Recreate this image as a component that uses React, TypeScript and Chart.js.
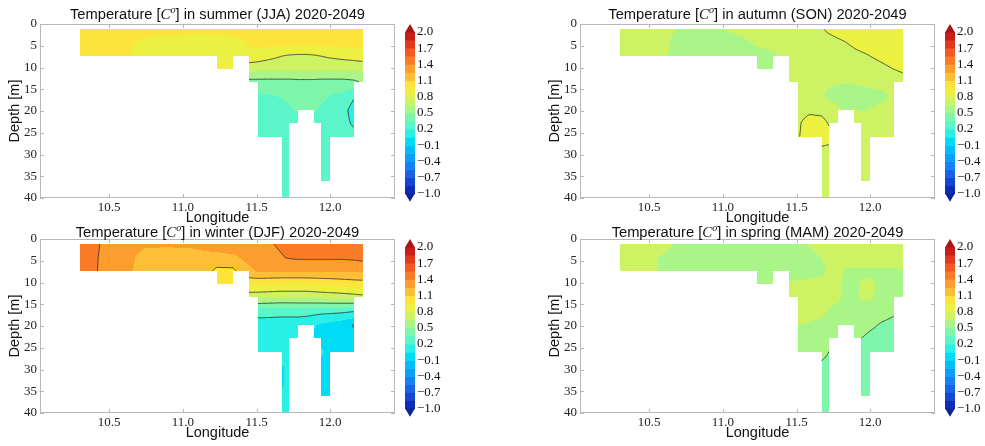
import React, { useEffect, useRef } from "react";
import { Chart, registerables } from "chart.js";

Chart.register(...registerables);

const _ = null;

// Model grid: longitude of each column, depth [m] of each row
const LONGITUDES = [10.30, 10.45, 10.60, 10.75, 10.90, 11.05, 11.15, 11.23, 11.34, 11.40, 11.45, 11.51, 11.59, 11.67, 11.72, 11.78, 11.84, 11.89, 11.94, 12.00, 12.08, 12.16, 12.22];
const DEPTHS = [1.2, 4.3, 7.4, 10.4, 13.3, 16.5, 19.8, 22.8, 25.9, 29.5, 33.0, 36.1, 39.7];

// Temperature change [C] at each grid node (null = land)
const SUMMER_JJA = [
  [1.02, 1.02, 1.02, 1.00, 0.99, 0.98, 0.98, 0.98, 0.99, 1.00, 1.00, 1.01, 1.02, 1.02, 1.02, 1.02, 1.02, 1.02, 1.02, 1.01, 1.00, 1.00, 1.00],
  [1.00, 1.00, 0.98, 0.92, 0.90, 0.90, 0.90, 0.90, 0.90, 0.93, 0.97, 1.00, 1.00, 1.00, 1.00, 1.00, 1.00, 1.00, 1.00, 1.00, 1.00, 1.00, 1.00],
  [1.00, 0.99, 0.97, 0.90, 0.88, 0.88, 0.88, 0.88, 0.88, 0.90, 0.90, 0.88, 0.84, 0.80, 0.78, 0.77, 0.77, 0.78, 0.80, 0.82, 0.84, 0.86, 0.88],
  [_, _, _, _, _, _, _, 0.86, 0.86, _, 0.70, 0.69, 0.68, 0.68, 0.68, 0.68, 0.68, 0.68, 0.68, 0.68, 0.68, 0.68, 0.68],
  [_, _, _, _, _, _, _, _, _, _, 0.45, 0.45, 0.45, 0.45, 0.45, 0.46, 0.46, 0.46, 0.45, 0.45, 0.45, 0.47, 0.52],
  [_, _, _, _, _, _, _, _, _, _, _, 0.33, 0.34, 0.36, 0.38, 0.42, 0.43, 0.42, 0.38, 0.35, 0.32, 0.22, _],
  [_, _, _, _, _, _, _, _, _, _, _, 0.28, 0.29, 0.31, 0.33, 0.36, 0.37, 0.36, 0.33, 0.30, 0.26, 0.14, _],
  [_, _, _, _, _, _, _, _, _, _, _, 0.27, 0.28, 0.29, 0.30, 0.31, _, 0.30, 0.30, 0.28, 0.25, 0.18, _],
  [_, _, _, _, _, _, _, _, _, _, _, 0.27, 0.27, 0.28, 0.28, _, _, _, 0.28, 0.28, 0.27, 0.24, _],
  [_, _, _, _, _, _, _, _, _, _, _, _, _, 0.28, 0.28, _, _, _, 0.28, 0.28, _, _, _],
  [_, _, _, _, _, _, _, _, _, _, _, _, _, 0.28, 0.28, _, _, _, 0.28, 0.28, _, _, _],
  [_, _, _, _, _, _, _, _, _, _, _, _, _, 0.28, 0.28, _, _, _, 0.28, 0.28, _, _, _],
  [_, _, _, _, _, _, _, _, _, _, _, _, _, 0.28, 0.28, _, _, _, _, _, _, _, _],
];

const AUTUMN_SON = [
  [0.72, 0.71, 0.70, 0.60, 0.60, 0.67, 0.70, 0.71, 0.72, 0.73, 0.74, 0.75, 0.77, 0.79, 0.82, 0.84, 0.85, 0.86, 0.86, 0.86, 0.86, 0.86, 0.86],
  [0.71, 0.70, 0.67, 0.58, 0.57, 0.58, 0.63, 0.67, 0.70, 0.71, 0.72, 0.73, 0.74, 0.75, 0.76, 0.78, 0.80, 0.82, 0.84, 0.85, 0.86, 0.86, 0.86],
  [0.72, 0.70, 0.67, 0.57, 0.56, 0.57, 0.58, 0.60, 0.62, 0.67, 0.70, 0.72, 0.72, 0.72, 0.73, 0.74, 0.75, 0.77, 0.78, 0.80, 0.82, 0.84, 0.85],
  [_, _, _, _, _, _, _, 0.60, 0.61, _, 0.71, 0.72, 0.72, 0.72, 0.72, 0.73, 0.73, 0.74, 0.75, 0.76, 0.78, 0.80, 0.82],
  [_, _, _, _, _, _, _, _, _, _, 0.72, 0.72, 0.71, 0.69, 0.67, 0.66, 0.66, 0.66, 0.67, 0.69, 0.71, 0.73, 0.75],
  [_, _, _, _, _, _, _, _, _, _, _, 0.72, 0.70, 0.66, 0.62, 0.60, 0.60, 0.60, 0.60, 0.60, 0.61, 0.68, _],
  [_, _, _, _, _, _, _, _, _, _, _, 0.75, 0.77, 0.76, 0.72, 0.67, 0.64, 0.66, 0.64, 0.66, 0.69, 0.72, _],
  [_, _, _, _, _, _, _, _, _, _, _, 0.78, 0.86, 0.85, 0.79, 0.74, _, 0.72, 0.72, 0.72, 0.73, 0.73, _],
  [_, _, _, _, _, _, _, _, _, _, _, 0.79, 0.86, 0.85, 0.84, _, _, _, 0.72, 0.72, 0.72, 0.72, _],
  [_, _, _, _, _, _, _, _, _, _, _, _, _, 0.77, 0.76, _, _, _, 0.72, 0.72, _, _, _],
  [_, _, _, _, _, _, _, _, _, _, _, _, _, 0.74, 0.74, _, _, _, 0.72, 0.72, _, _, _],
  [_, _, _, _, _, _, _, _, _, _, _, _, _, 0.73, 0.73, _, _, _, 0.72, 0.72, _, _, _],
  [_, _, _, _, _, _, _, _, _, _, _, _, _, 0.73, 0.73, _, _, _, _, _, _, _, _],
];

const WINTER_DJF = [
  [1.50, 1.39, 1.30, 1.27, 1.27, 1.28, 1.30, 1.32, 1.34, 1.35, 1.36, 1.37, 1.39, 1.42, 1.45, 1.48, 1.49, 1.50, 1.50, 1.50, 1.50, 1.50, 1.50],
  [1.50, 1.38, 1.30, 1.20, 1.18, 1.18, 1.20, 1.20, 1.22, 1.26, 1.30, 1.33, 1.36, 1.39, 1.41, 1.42, 1.42, 1.42, 1.42, 1.42, 1.42, 1.43, 1.45],
  [1.48, 1.38, 1.28, 1.20, 1.17, 1.17, 1.17, 1.06, 1.06, 1.17, 1.22, 1.26, 1.26, 1.26, 1.26, 1.26, 1.26, 1.26, 1.26, 1.26, 1.26, 1.26, 1.26],
  [_, _, _, _, _, _, _, 1.02, 1.02, _, 0.98, 0.97, 0.96, 0.95, 0.95, 0.95, 0.95, 0.96, 0.97, 0.98, 1.00, 1.02, 1.03],
  [_, _, _, _, _, _, _, _, _, _, 0.70, 0.70, 0.69, 0.68, 0.68, 0.68, 0.68, 0.69, 0.70, 0.71, 0.72, 0.74, 0.76],
  [_, _, _, _, _, _, _, _, _, _, _, 0.28, 0.27, 0.26, 0.26, 0.27, 0.27, 0.26, 0.25, 0.25, 0.24, 0.22, _],
  [_, _, _, _, _, _, _, _, _, _, _, 0.12, 0.12, 0.12, 0.12, 0.11, 0.09, 0.06, 0.03, 0.00, -0.04, -0.11, _],
  [_, _, _, _, _, _, _, _, _, _, _, 0.12, 0.12, 0.11, 0.10, 0.09, _, 0.04, 0.02, 0.00, -0.03, -0.06, _],
  [_, _, _, _, _, _, _, _, _, _, _, 0.12, 0.12, 0.10, 0.08, _, _, _, 0.06, 0.03, 0.01, 0.00, _],
  [_, _, _, _, _, _, _, _, _, _, _, _, _, 0.04, 0.07, _, _, _, 0.03, 0.02, _, _, _],
  [_, _, _, _, _, _, _, _, _, _, _, _, _, 0.04, 0.07, _, _, _, 0.03, 0.02, _, _, _],
  [_, _, _, _, _, _, _, _, _, _, _, _, _, 0.06, 0.07, _, _, _, 0.03, 0.03, _, _, _],
  [_, _, _, _, _, _, _, _, _, _, _, _, _, 0.07, 0.08, _, _, _, _, _, _, _, _],
];

const SPRING_MAM = [
  [0.68, 0.67, 0.67, 0.62, 0.60, 0.60, 0.60, 0.60, 0.60, 0.60, 0.60, 0.63, 0.66, 0.70, 0.70, 0.70, 0.70, 0.70, 0.70, 0.70, 0.70, 0.70, 0.70],
  [0.69, 0.68, 0.64, 0.60, 0.58, 0.58, 0.58, 0.58, 0.59, 0.60, 0.61, 0.61, 0.62, 0.65, 0.68, 0.71, 0.71, 0.71, 0.71, 0.71, 0.71, 0.71, 0.71],
  [0.68, 0.67, 0.64, 0.58, 0.58, 0.58, 0.58, 0.58, 0.58, 0.59, 0.60, 0.60, 0.61, 0.63, 0.66, 0.68, 0.63, 0.63, 0.63, 0.63, 0.63, 0.63, 0.64],
  [_, _, _, _, _, _, _, 0.60, 0.60, _, 0.66, 0.67, 0.68, 0.69, 0.70, 0.68, 0.62, 0.61, 0.665, 0.67, 0.62, 0.61, 0.61],
  [_, _, _, _, _, _, _, _, _, _, 0.66, 0.68, 0.69, 0.70, 0.69, 0.67, 0.63, 0.62, 0.665, 0.665, 0.62, 0.61, 0.60],
  [_, _, _, _, _, _, _, _, _, _, _, 0.69, 0.69, 0.68, 0.64, 0.62, 0.61, 0.61, 0.60, 0.60, 0.57, 0.53, _],
  [_, _, _, _, _, _, _, _, _, _, _, 0.65, 0.64, 0.62, 0.60, 0.59, 0.58, 0.58, 0.57, 0.53, 0.48, 0.45, _],
  [_, _, _, _, _, _, _, _, _, _, _, 0.60, 0.59, 0.58, 0.57, 0.56, _, 0.55, 0.50, 0.46, 0.44, 0.43, _],
  [_, _, _, _, _, _, _, _, _, _, _, 0.58, 0.56, 0.54, 0.50, _, _, _, 0.45, 0.43, 0.43, 0.43, _],
  [_, _, _, _, _, _, _, _, _, _, _, _, _, 0.47, 0.46, _, _, _, 0.44, 0.44, _, _, _],
  [_, _, _, _, _, _, _, _, _, _, _, _, _, 0.45, 0.45, _, _, _, 0.44, 0.44, _, _, _],
  [_, _, _, _, _, _, _, _, _, _, _, _, _, 0.45, 0.45, _, _, _, 0.44, 0.44, _, _, _],
  [_, _, _, _, _, _, _, _, _, _, _, _, _, 0.45, 0.45, _, _, _, _, _, _, _, _],
];

const SEASON_NAMES = ["summer (JJA)", "autumn (SON)", "winter (DJF)", "spring (MAM)"];
const PERIOD = "2020-2049";

// Contour levels
const FILL_LEVELS = [-1.0, -0.85, -0.7, -0.55, -0.4, -0.25, -0.1, 0.05, 0.2, 0.35, 0.5, 0.65, 0.8, 0.95, 1.1, 1.25, 1.4, 1.55, 1.7, 1.85, 2.0];
const LINE_LEVELS = [-0.7, -0.4, -0.1, 0.2, 0.5, 0.8, 1.1, 1.4, 1.7];
const COLORBAR_TICKS = [2.0, 1.7, 1.4, 1.1, 0.8, 0.5, 0.2, -0.1, -0.4, -0.7, -1.0];
const X_TICKS = [10.5, 11.0, 11.5, 12.0];
const Y_TICKS = [0, 5, 10, 15, 20, 25, 30, 35, 40];

// Styles
const BIN_COLORS = [
  [15, 45, 180], [20, 70, 210], [25, 100, 230], [20, 130, 245], [10, 160, 250],
  [0, 190, 250], [0, 220, 245], [40, 240, 230], [90, 245, 200], [125, 245, 170],
  [170, 245, 135], [205, 242, 100], [235, 240, 65], [254, 227, 58], [255, 190, 55],
  [252, 157, 45], [250, 122, 40], [245, 88, 35], [228, 55, 30], [200, 30, 25],
];
const UNDER_COLOR = [10, 35, 150];
const OVER_COLOR = [170, 20, 20];

const SERIF = "'Liberation Serif', 'DejaVu Serif', serif";
const SANS = "'Liberation Sans', Arial, sans-serif";

const PANELS = [
  { values: SUMMER_JJA, name: SEASON_NAMES[0], left: 0, top: 0, width: 540, height: 231, titleY: 15 },
  { values: AUTUMN_SON, name: SEASON_NAMES[1], left: 540, top: 0, width: 445, height: 231, titleY: 15 },
  { values: WINTER_DJF, name: SEASON_NAMES[2], left: 0, top: 215, width: 540, height: 231, titleY: 18 },
  { values: SPRING_MAM, name: SEASON_NAMES[3], left: 540, top: 215, width: 445, height: 231, titleY: 18 },
];

function colorFor(v: number): number[] {
  if (v < FILL_LEVELS[0]) return UNDER_COLOR;
  if (v >= FILL_LEVELS[FILL_LEVELS.length - 1]) return OVER_COLOR;
  for (let k = 0; k < FILL_LEVELS.length - 1; k++) {
    if (v < FILL_LEVELS[k + 1]) return BIN_COLORS[k];
  }
  return OVER_COLOR;
}

function findIndex(arr: number[], v: number): number {
  if (v < arr[0] || v > arr[arr.length - 1]) return -1;
  for (let i = 0; i < arr.length - 1; i++) if (v <= arr[i + 1]) return i;
  return -1;
}

function rgb(c: number[]) {
  return `rgb(${c[0]},${c[1]},${c[2]})`;
}

function drawTitle(ctx: CanvasRenderingContext2D, cx: number, cy: number, name: string) {
  const parts = [
    { t: "Temperature [", f: `14.7px ${SANS}`, dy: 0 },
    { t: "C", f: `italic 15px ${SERIF}`, dy: 0 },
    { t: "o", f: `italic 10px ${SERIF}`, dy: -5 },
    { t: `] in ${name} ${PERIOD}`, f: `14.7px ${SANS}`, dy: 0 },
  ];
  let total = 0;
  const widths = parts.map((p) => {
    ctx.font = p.f;
    const w = ctx.measureText(p.t).width;
    total += w;
    return w;
  });
  let x = cx - total / 2;
  ctx.fillStyle = "#111";
  ctx.textBaseline = "middle";
  ctx.textAlign = "left";
  parts.forEach((p, i) => {
    ctx.font = p.f;
    ctx.fillText(p.t, x, cy + p.dy);
    x += widths[i];
  });
}

function makeConfig(panel: any): any {
  const V: (number | null)[][] = panel.values;
  const points: { x: number; y: number }[] = [];
  V.forEach((row, j) => row.forEach((v, i) => { if (v !== null) points.push({ x: LONGITUDES[i], y: DEPTHS[j] }); }));

  const fieldPlugin = {
    id: "field",
    beforeDatasetsDraw(chart: any) {
      const { ctx, chartArea, scales } = chart;
      const xs = scales.x, ys = scales.y;
      const left = Math.round(chartArea.left), top = Math.round(chartArea.top);
      const w = Math.round(chartArea.right - chartArea.left);
      const h = Math.round(chartArea.bottom - chartArea.top);
      const off = document.createElement("canvas");
      off.width = w; off.height = h;
      const octx = off.getContext("2d")!;
      const img = octx.createImageData(w, h);
      for (let py = 0; py < h; py++) {
        const d = ys.getValueForPixel(top + py + 0.5);
        const j = findIndex(DEPTHS, d);
        if (j < 0) continue;
        const ty = (d - DEPTHS[j]) / (DEPTHS[j + 1] - DEPTHS[j]);
        for (let px = 0; px < w; px++) {
          const lon = xs.getValueForPixel(left + px + 0.5);
          const i = findIndex(LONGITUDES, lon);
          if (i < 0) continue;
          const a = V[j][i], b = V[j][i + 1], c = V[j + 1][i], e = V[j + 1][i + 1];
          if (a === null || b === null || c === null || e === null) continue;
          const tx = (lon - LONGITUDES[i]) / (LONGITUDES[i + 1] - LONGITUDES[i]);
          const v = a * (1 - tx) * (1 - ty) + b * tx * (1 - ty) + c * (1 - tx) * ty + e * tx * ty;
          const col = colorFor(v);
          const o = (py * w + px) * 4;
          img.data[o] = col[0]; img.data[o + 1] = col[1]; img.data[o + 2] = col[2]; img.data[o + 3] = 255;
        }
      }
      octx.putImageData(img, 0, 0);
      ctx.drawImage(off, left, top);

      // contour lines (marching squares on a refined bilinear grid)
      const N = 10;
      ctx.save();
      ctx.beginPath();
      for (let j = 0; j < DEPTHS.length - 1; j++) {
        for (let i = 0; i < LONGITUDES.length - 1; i++) {
          const a = V[j][i], b = V[j][i + 1], c = V[j + 1][i], e = V[j + 1][i + 1];
          if (a === null || b === null || c === null || e === null) continue;
          const val = (sx: number, sy: number) => a * (1 - sx) * (1 - sy) + b * sx * (1 - sy) + c * (1 - sx) * sy + e * sx * sy;
          const X = (sx: number) => xs.getPixelForValue(LONGITUDES[i] + sx * (LONGITUDES[i + 1] - LONGITUDES[i]));
          const Y = (sy: number) => ys.getPixelForValue(DEPTHS[j] + sy * (DEPTHS[j + 1] - DEPTHS[j]));
          for (let sj = 0; sj < N; sj++) {
            for (let si = 0; si < N; si++) {
              const x0 = si / N, x1 = (si + 1) / N, y0 = sj / N, y1 = (sj + 1) / N;
              const v00 = val(x0, y0), v10 = val(x1, y0), v11 = val(x1, y1), v01 = val(x0, y1);
              const lo = Math.min(v00, v10, v11, v01), hi = Math.max(v00, v10, v11, v01);
              for (const L of LINE_LEVELS) {
                if (L < lo || L > hi) continue;
                const pts: number[][] = [];
                const edge = (va: number, vb: number, pa: number[], pb: number[]) => {
                  if ((va >= L) !== (vb >= L)) {
                    const t = (L - va) / (vb - va);
                    pts.push([pa[0] + t * (pb[0] - pa[0]), pa[1] + t * (pb[1] - pa[1])]);
                  }
                };
                const P00 = [X(x0), Y(y0)], P10 = [X(x1), Y(y0)], P11 = [X(x1), Y(y1)], P01 = [X(x0), Y(y1)];
                edge(v00, v10, P00, P10);
                edge(v10, v11, P10, P11);
                edge(v01, v11, P01, P11);
                edge(v00, v01, P00, P01);
                for (let k = 0; k + 1 < pts.length; k += 2) {
                  ctx.moveTo(pts[k][0], pts[k][1]);
                  ctx.lineTo(pts[k + 1][0], pts[k + 1][1]);
                }
              }
            }
          }
        }
      }
      ctx.strokeStyle = "rgba(45,45,45,0.8)";
      ctx.lineWidth = 1;
      ctx.stroke();
      ctx.restore();
    },
    afterDraw(chart: any) {
      const { ctx, chartArea, scales } = chart;
      const xs = scales.x, ys = scales.y;
      const { left, right, top, bottom } = chartArea;
      ctx.save();
      // frame
      ctx.strokeStyle = "#b8b8b8";
      ctx.lineWidth = 1;
      ctx.strokeRect(left + 0.5, top + 0.5, right - left - 1, bottom - top - 1);
      ctx.beginPath();
      Y_TICKS.forEach((t) => {
        const py = Math.round(ys.getPixelForValue(t)) + 0.5;
        ctx.moveTo(left, py); ctx.lineTo(left + 4, py);
        ctx.moveTo(right, py); ctx.lineTo(right - 4, py);
      });
      X_TICKS.forEach((t) => {
        const px = Math.round(xs.getPixelForValue(t)) + 0.5;
        ctx.moveTo(px, bottom); ctx.lineTo(px, bottom - 4);
        ctx.moveTo(px, top); ctx.lineTo(px, top + 4);
      });
      ctx.stroke();

      // titles
      drawTitle(ctx, (left + right) / 2, panel.titleY, panel.name);
      ctx.fillStyle = "#111";
      ctx.font = `14.5px ${SANS}`;
      ctx.textAlign = "center";
      ctx.textBaseline = "middle";
      ctx.fillText("Longitude", (left + right) / 2, 218);
      ctx.save();
      ctx.translate(15, (top + bottom) / 2);
      ctx.rotate(-Math.PI / 2);
      ctx.fillText("Depth [m]", 0, 0);
      ctx.restore();

      // colorbar
      const cbX = 405, cbW = 10, cbTop = 32, cbBot = 193.7;
      const vmax = FILL_LEVELS[FILL_LEVELS.length - 1], vmin = FILL_LEVELS[0];
      const vToY = (v: number) => cbTop + ((vmax - v) / (vmax - vmin)) * (cbBot - cbTop);
      for (let k = 0; k < FILL_LEVELS.length - 1; k++) {
        const y1 = vToY(FILL_LEVELS[k + 1]), y2 = vToY(FILL_LEVELS[k]);
        ctx.fillStyle = rgb(BIN_COLORS[k]);
        ctx.fillRect(cbX, y1, cbW, y2 - y1 + 0.5);
      }
      ctx.fillStyle = rgb(OVER_COLOR);
      ctx.beginPath();
      ctx.moveTo(cbX, cbTop + 0.5); ctx.lineTo(cbX + cbW, cbTop + 0.5); ctx.lineTo(cbX + cbW / 2, cbTop - 8); ctx.closePath();
      ctx.fill();
      ctx.fillStyle = rgb(UNDER_COLOR);
      ctx.beginPath();
      ctx.moveTo(cbX, cbBot - 0.5); ctx.lineTo(cbX + cbW, cbBot - 0.5); ctx.lineTo(cbX + cbW / 2, cbBot + 8); ctx.closePath();
      ctx.fill();
      ctx.fillStyle = "#111";
      ctx.font = `13px ${SERIF}`;
      ctx.textAlign = "left";
      ctx.textBaseline = "middle";
      COLORBAR_TICKS.forEach((v) => {
        const s = v < 0 ? "\u2212" + Math.abs(v).toFixed(1) : v.toFixed(1);
        ctx.fillText(s, cbX + cbW + 2, vToY(v));
      });
      ctx.restore();
    },
  };

  return {
    type: "scatter",
    data: {
      datasets: [{ data: points, pointRadius: 0, pointHoverRadius: 0, showLine: false }],
    },
    options: {
      responsive: false,
      maintainAspectRatio: false,
      animation: false,
      devicePixelRatio: 1,
      events: [],
      layout: { padding: { left: 0, top: 24, right: panel.width - 395, bottom: panel.height - 198 - 17 } },
      plugins: { legend: { display: false }, title: { display: false }, tooltip: { enabled: false } },
      scales: {
        x: {
          type: "linear",
          min: 10.03,
          max: 12.44,
          afterBuildTicks: (s: any) => { s.ticks = X_TICKS.map((v) => ({ value: v })); },
          afterFit: (s: any) => { s.height = 17; },
          grid: { display: false, drawTicks: false },
          border: { display: false },
          ticks: {
            autoSkip: false, maxRotation: 0, padding: 2, color: "#222",
            font: { family: SERIF, size: 13 },
            callback: (v: any) => Number(v).toFixed(1),
          },
        },
        y: {
          type: "linear",
          reverse: true,
          min: 0,
          max: 40,
          afterBuildTicks: (s: any) => { s.ticks = Y_TICKS.map((v) => ({ value: v })); },
          afterFit: (s: any) => { s.width = 40; },
          grid: { display: false, drawTicks: false },
          border: { display: false },
          ticks: {
            autoSkip: false, padding: 3, color: "#222",
            font: { family: SERIF, size: 13 },
            callback: (v: any) => String(v),
          },
        },
      },
    },
    plugins: [fieldPlugin],
  };
}

function Panel({ panel }: { panel: any }) {
  const ref = useRef<HTMLCanvasElement>(null);
  useEffect(() => {
    if (!ref.current) return;
    const chart = new Chart(ref.current, makeConfig(panel));
    return () => chart.destroy();
  }, [panel]);
  return (
    <canvas
      ref={ref}
      width={panel.width}
      height={panel.height}
      style={{ position: "absolute", left: panel.left, top: panel.top, width: panel.width, height: panel.height, display: "block" }}
    />
  );
}

export default function App() {
  return (
    <div style={{ position: "absolute", left: 0, top: 0, width: 985, height: 446, background: "#fff", overflow: "hidden" }}>
      {PANELS.map((p, i) => (
        <Panel key={i} panel={p} />
      ))}
    </div>
  );
}
